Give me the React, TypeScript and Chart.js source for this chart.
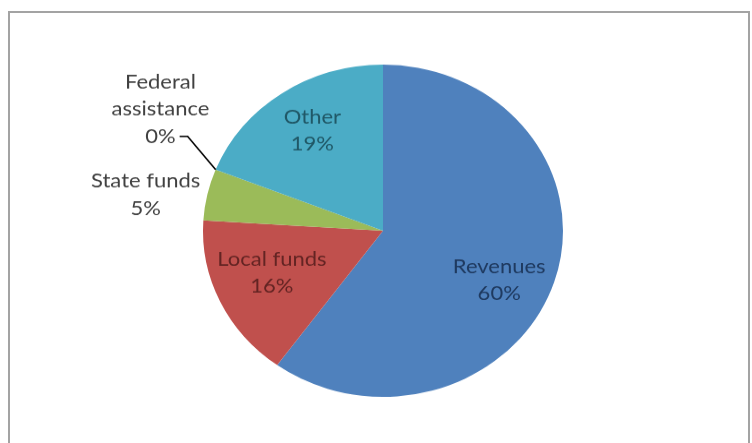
import React, { useEffect, useRef } from "react";
import { Chart, registerables } from "chart.js";

Chart.register(...registerables);

// ---- data ----
const categories = ["Revenues", "Local funds", "State funds", "Federal assistance", "Other"];
const shares = [60, 16, 5, 0, 19];
const labelLines = [["Revenues"], ["Local funds"], ["State funds"], ["Federal", "assistance"], ["Other"]];

// ---- styles ----
const sliceColors = ["#4F81BD", "#C0504D", "#9BBB59", "#8064A2", "#4BACC6"];
const textColors = ["#1F3A60", "#632423", "#404040", "#404040", "#205867"];
// label placement relative to each arc: inside (angle shift in degrees, radius fraction) or outside
const placements = [
  { mode: "in", dAngle: 6.6, frac: 0.71 },
  { mode: "in", dAngle: 2.9, frac: 0.667 },
  { mode: "out", gap: 7 },
  { mode: "leader", dx: -28, dy: -36, tail: 8, gap: 8 },
  { mode: "in", dAngle: 1.2, frac: 0.72 },
];

const FONT = "22px Lato, 'DejaVu Sans', sans-serif";
const LINE_H = 29.5;

const labelPlugin = {
  id: "pieLabels",
  afterDatasetsDraw(chart: any) {
    const ctx = chart.ctx;
    const meta = chart.getDatasetMeta(0);
    const total = shares.reduce((a, b) => a + b, 0);
    ctx.save();
    ctx.font = FONT;
    ctx.textBaseline = "middle";
    ctx.textAlign = "center";
    meta.data.forEach((arc: any, i: number) => {
      const p = arc.getProps(["x", "y", "startAngle", "endAngle", "outerRadius"], true);
      const mid = (p.startAngle + p.endAngle) / 2;
      const lines = [...labelLines[i], Math.round((shares[i] / total) * 100) + "%"];
      const pl: any = placements[i];
      ctx.fillStyle = textColors[i];
      const widths = lines.map((l) => ctx.measureText(l).width);
      const maxW = Math.max(...widths);
      if (pl.mode === "in") {
        const a = mid + (pl.dAngle * Math.PI) / 180;
        const cx = p.x + Math.cos(a) * p.outerRadius * pl.frac;
        const cy = p.y + Math.sin(a) * p.outerRadius * pl.frac;
        lines.forEach((l, k) => {
          ctx.fillText(l, cx, cy + (k - (lines.length - 1) / 2) * LINE_H);
        });
      } else if (pl.mode === "out") {
        const ex = p.x + Math.cos(mid) * p.outerRadius;
        const ey = p.y + Math.sin(mid) * p.outerRadius;
        const cx = ex - pl.gap - maxW / 2;
        lines.forEach((l, k) => {
          ctx.fillText(l, cx, ey + (k - (lines.length - 1) / 2) * LINE_H);
        });
      } else {
        const ex = p.x + Math.cos(mid) * p.outerRadius;
        const ey = p.y + Math.sin(mid) * p.outerRadius;
        const bx = ex + pl.dx;
        const by = ey + pl.dy;
        const tx = bx - pl.tail;
        ctx.strokeStyle = "#000000";
        ctx.lineWidth = 1.6;
        ctx.beginPath();
        ctx.moveTo(ex, ey);
        ctx.lineTo(bx, by);
        ctx.lineTo(tx, by);
        ctx.stroke();
        const lastW = widths[widths.length - 1];
        const cx = tx - pl.gap + 4 - lastW / 2;
        lines.forEach((l, k) => {
          ctx.fillText(l, cx, by - (lines.length - 1 - k) * LINE_H);
        });
      }
    });
    ctx.restore();
  },
};

export default function App() {
  const ref = useRef<HTMLCanvasElement | null>(null);
  useEffect(() => {
    if (!ref.current) return;
    const chart = new Chart(ref.current, {
      type: "pie",
      data: {
        labels: categories,
        datasets: [
          {
            data: shares,
            backgroundColor: sliceColors,
            borderWidth: 0,
            hoverOffset: 0,
          },
        ],
      },
      options: {
        responsive: false,
        animation: false,
        layout: { padding: { left: 203, right: 189, top: 70, bottom: 50 } },
        plugins: { legend: { display: false }, tooltip: { enabled: false } },
        events: [],
      },
      plugins: [labelPlugin],
    });
    return () => chart.destroy();
  }, []);
  return (
    <div style={{ position: "absolute", left: 0, top: 0, width: 752, height: 443, overflow: "hidden", background: "#ffffff" }}>
      <div
        style={{
          position: "absolute",
          left: 8,
          top: 11,
          width: 738,
          height: 460,
          border: "2px solid #a3a3a3",
          borderBottom: "none",
        }}
      />
      <canvas
        ref={ref}
        width={752}
        height={480}
        style={{ position: "absolute", left: 0, top: 0, width: "752px", height: "443px" }}
      />
    </div>
  );
}
